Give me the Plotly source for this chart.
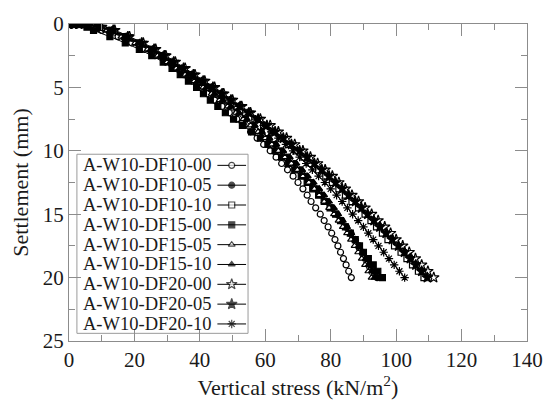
import plotly.graph_objects as go

# Shared settlement grid (mm)
settlement = [0, 0, 0, 0.05, 0.25] + [0.5 * i for i in range(1, 41)]

names = ["A-W10-DF10-00", "A-W10-DF10-05", "A-W10-DF10-10",
         "A-W10-DF15-00", "A-W10-DF15-05", "A-W10-DF15-10",
         "A-W10-DF20-00", "A-W10-DF20-05", "A-W10-DF20-10"]

stress_df10_00 = [0, 1.5, 3, 5, 7.5, 10, 15, 19.2, 23, 26.4, 29.5, 32.3, 35, 37.6, 40, 42.3, 44.5, 46.8, 49, 51.3,
                  53.5, 55.5, 57.5, 59.5, 61.5, 63.3, 65, 66.8, 68.5, 70, 71.5, 72.8, 74, 75.4, 76.8, 78, 79.2, 80.3,
                  81.3, 82.2, 83, 83.9, 84.7, 85.5, 86.3]
stress_df10_05 = [0, 1.5, 3, 5.5, 8.5, 12, 16.5, 20.7, 24.5, 27.6, 30.5, 33.3, 36, 38.8, 41.5, 44, 46.5, 49, 51.5, 54,
                  56.5, 58.8, 61, 63, 65, 67, 69, 70.8, 72.5, 74.3, 76, 77.5, 79, 80.5, 82, 83.4, 84.8, 86.2, 87.5,
                  88.7, 89.8, 90.9, 92, 93.1, 94.2]
stress_df10_10 = [0, 1.5, 3, 5.5, 9, 13, 17.5, 21.6, 25.5, 28.6, 31.5, 34.5, 37.5, 40.3, 43, 45.8, 48.5, 51.3, 54, 56.8,
                  59.5, 62, 64.5, 67, 69.5, 71.8, 74, 76.3, 78.5, 80.5, 82.5, 84.5, 86.5, 88.5, 90.5, 92.3, 94, 95.8,
                  97.5, 99.5, 101.5, 103.3, 105, 106.8, 108.5]
stress_df15_00 = [0, 1.5, 3, 4.5, 5.5, 7.5, 12.5, 17.2, 21.5, 25.3, 28.8, 31.5, 34, 36.5, 39, 41.1, 43.2, 45.5, 47.8,
                  50.3, 53, 55.8, 58.5, 60.8, 63, 65, 67, 69, 71, 72.8, 74.5, 76.3, 78, 79.8, 81.5, 83, 84.5, 86, 87.5,
                  88.8, 90, 91.5, 93, 94.4, 95.8]
stress_df15_05 = [0, 1.5, 3, 5.5, 8.5, 11.5, 16, 20.2, 24, 27.1, 30, 32.8, 35.5, 38.3, 41, 43.6, 46, 48.5, 51, 53.3,
                  55.5, 57.8, 60, 62, 64, 66, 68, 69.8, 71.5, 73.3, 75, 76.5, 78, 79.5, 81, 82.4, 83.7, 85, 86.2, 87.3,
                  88.4, 89.5, 90.5, 91.5, 92.5]
stress_df15_10 = [0, 1.5, 3, 5.5, 9, 12.5, 17, 21.2, 25, 28.1, 31, 33.8, 36.5, 39.3, 42, 44.5, 47, 49.5, 52, 54.4,
                  56.8, 59, 61.3, 63.4, 65.5, 67.5, 69.5, 71.3, 73, 74.8, 76.5, 78, 79.5, 81, 82.3, 83.7, 85, 86.3,
                  87.5, 88.6, 89.7, 90.7, 91.6, 92.5, 93.4]
stress_df20_00 = [0, 1.5, 3, 6, 10, 14, 18.5, 22.7, 26.5, 29.6, 32.5, 35.5, 38.5, 41.5, 44.5, 47.3, 50, 52.8, 55.5,
                  58.5, 61.5, 64, 66.5, 69, 71.5, 73.8, 76, 78.3, 80.5, 82.5, 84.5, 86.5, 88.5, 90.5, 92.5, 94.5, 96.5,
                  98.3, 100, 102, 104, 105.9, 107.8, 109.7, 111.5]
stress_df20_05 = [0, 1.5, 3, 6, 9.5, 13.5, 18, 22.2, 26, 29.1, 32, 35, 38, 41, 44, 46.8, 49.5, 52.3, 55, 57.8, 60.5,
                  63, 65.5, 68, 70.5, 72.8, 75, 77.3, 79.5, 81.5, 83.5, 85.5, 87.5, 89.4, 91.3, 93.2, 95, 96.9, 98.8,
                  100.7, 102.5, 104.3, 106, 107.8, 109.5]
stress_df20_10 = [0, 1.5, 3, 5.5, 9, 13, 17.5, 21.6, 25.5, 28.6, 31.5, 34.5, 37.5, 40.5, 43.5, 46.3, 49, 51.8, 54.5,
                  57, 59.5, 61.8, 64, 66.3, 68.5, 70.5, 72.5, 74.4, 76.3, 78.2, 80, 81.8, 83.5, 85.1, 86.7, 88.4, 90,
                  91.5, 93, 94.6, 96.2, 97.8, 99.4, 101, 102.6]

stress_series = [stress_df10_00, stress_df10_05, stress_df10_10, stress_df15_00, stress_df15_05,
                 stress_df15_10, stress_df20_00, stress_df20_05, stress_df20_10]

# marker styles: (symbol, fill color, size)
styles = [("circle", "white", 6), ("circle", "black", 6), ("square", "white", 6),
          ("square", "black", 6), ("triangle-up", "white", 6), ("triangle-up", "black", 6),
          ("star", "white", 8), ("star", "black", 8), ("asterisk-open", "black", 7)]

FONT = "Liberation Serif"
TXT = "#1a1a1a"
AX = "#8c8c8c"

X_MAX, Y_MAX = 140, 25
L, R, T, B = 69, 532, 21, 352
W, H = R - L, B - T

fig = go.Figure()
for name, xs, (sym, fc, sz) in zip(names, stress_series, styles):
    fig.add_trace(go.Scatter(
        x=xs, y=settlement, mode="lines+markers", name=name, showlegend=False,
        line=dict(color="black", width=1, shape="spline", smoothing=0.6),
        marker=dict(symbol=sym, color=fc, size=sz, line=dict(color="black", width=1.2)),
    ))

# Custom legend: text on the left, a short line with the marker on the right
def px(x):
    return (x - L) / W
def py(y):
    return (B - y) / H

row0, drow = 168.6, 20.7
fig.add_shape(type="rect", xref="paper", yref="paper", x0=px(77), x1=px(250), y0=py(344), y1=py(157),
              line=dict(color="#9a9a9a", width=1), fillcolor="white", layer="below")
leg_x, leg_y, leg_sym, leg_fc, leg_sz = [], [], [], [], []
for i, (name, (sym, fc, sz)) in enumerate(zip(names, styles)):
    yrow = row0 + drow * i
    fig.add_annotation(x=px(81), y=py(yrow), xref="paper", yref="paper", text=name, showarrow=False,
                       xanchor="left", yanchor="middle", font=dict(family=FONT, size=18.5, color=TXT))
    fig.add_shape(type="line", xref="paper", yref="paper", x0=px(219), x1=px(248), y0=py(yrow), y1=py(yrow),
                  line=dict(color="black", width=1), layer="below")
    leg_x.append((233.5 - L) / W * X_MAX)
    leg_y.append((yrow - T) / H * Y_MAX)
    leg_sym.append(sym)
    leg_fc.append(fc)
    leg_sz.append(sz)
fig.add_trace(go.Scatter(x=leg_x, y=leg_y, mode="markers", showlegend=False, hoverinfo="skip",
                         marker=dict(symbol=leg_sym, color=leg_fc, size=leg_sz,
                                     line=dict(color="black", width=1.2))))

axis_common = dict(showgrid=False, zeroline=False, showline=True, linecolor=AX, linewidth=1,
                   mirror="ticks", ticks="inside", ticklen=12, tickcolor=AX, tickwidth=1,
                   tickfont=dict(family=FONT, size=21, color=TXT))

fig.update_layout(
    width=555, height=406,
    margin=dict(l=L, r=555 - R, t=T, b=406 - B),
    paper_bgcolor="white", plot_bgcolor="white",
    xaxis=dict(range=[0, X_MAX], dtick=20, tick0=0,
               minor=dict(ticks="inside", ticklen=6, dtick=10, tickcolor=AX),
               title=dict(text="Vertical stress (kN/m<sup>2</sup>)", standoff=6,
                          font=dict(family=FONT, size=22, color=TXT)),
               **axis_common),
    yaxis=dict(range=[Y_MAX, 0], dtick=5, tick0=0,
               minor=dict(ticks="inside", ticklen=6, dtick=2.5, tickcolor=AX),
               title=dict(text="Settlement (mm)", standoff=8,
                          font=dict(family=FONT, size=22, color=TXT)),
               **axis_common),
)

fig.write_html("out.html")
